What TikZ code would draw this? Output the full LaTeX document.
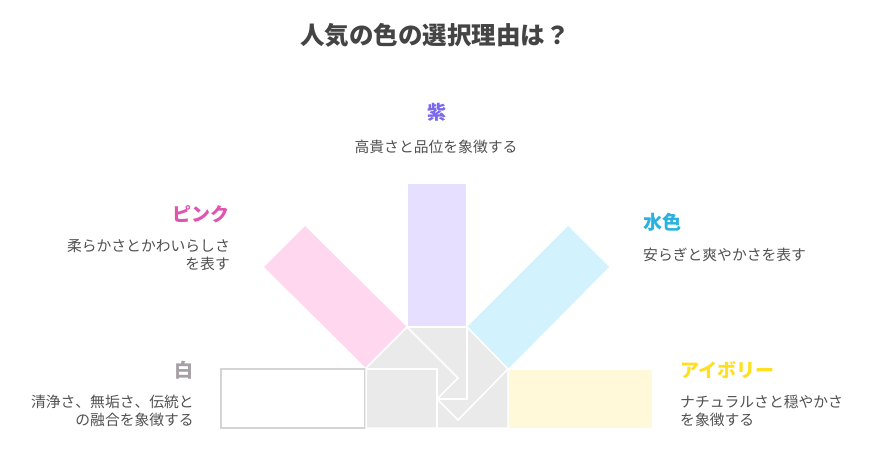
\documentclass[tikz,border=0pt]{standalone}
\usepackage{fontspec}
\setmainfont{Noto Sans CJK JP}
\definecolor{txtgray}{HTML}{505050}
\definecolor{ttlgray}{HTML}{444444}
\definecolor{hubgray}{HTML}{EAEAEA}
\definecolor{murasaki}{HTML}{7B68EE}
\definecolor{murasakiL}{HTML}{E6DFFF}
\definecolor{pink}{HTML}{E055B0}
\definecolor{pinkL}{HTML}{FFD7EF}
\definecolor{mizu}{HTML}{29B2DE}
\definecolor{mizuL}{HTML}{D2F3FD}
\definecolor{ivory}{HTML}{FFE01E}
\definecolor{ivoryL}{HTML}{FFF9DA}
\definecolor{shiro}{HTML}{A6A0A6}
\definecolor{shiroB}{HTML}{D4D4D4}
\tikzset{
  head/.style={inner sep=0pt, font=\bfseries\fontsize{19}{22}\selectfont},
  desc/.style={inner sep=0pt, font=\fontsize{14.8}{18}\selectfont, text=txtgray},
  cut/.style={draw=white, line width=1.5pt}
}
\begin{document}
\begin{tikzpicture}[x=1pt,y=-1pt]
  \useasboundingbox (0,0) rectangle (871,455);
  \node[font=\bfseries\fontsize{24.5}{28}\selectfont, text=ttlgray] (title) at (435,35) {人気の色の選択理由は？};

  % bars
  \fill[murasakiL] (408,184) rectangle (466,326);
  \fill[pinkL] (407,327) -- (366,368) -- (264,267) -- (305,226) -- cycle;
  \fill[mizuL] (467,327) -- (508,369) -- (609,267) -- (568,226) -- cycle;
  \fill[ivoryL] (509,370) rectangle (652,428);
  \draw[shiroB, line width=1.5pt, fill=white] (221,369) rectangle (365,428);

  % hub
  \filldraw[fill=hubgray, cut] (366,368) -- (407,327) -- (467,327) -- (508,369) -- (508,428) -- (366,428) -- cycle;
  \begin{scope}[cut]
    \draw (366,369) -- (437,369) -- (437,428);
    \draw (407,327) -- (458,378) -- (437,399);
    \draw (467,327) -- (467,399) -- (437,399);
    \draw (437,399) -- (458,420) -- (508,369);
  \end{scope}

  % labels
  \node[head, text=murasaki] (murasakiH) at (437,112) {紫};
  \node[desc] (murasakiT) at (436,147) {高貴さと品位を象徴する};
  \node[head, text=pink, anchor=east] (pinkH) at (230,214) {ピンク};
  \node[desc, anchor=east, align=right] (pinkT) at (230,255) {柔らかさとかわいらしさ\\を表す};
  \node[head, text=mizu, anchor=west] (mizuH) at (643,222) {水色};
  \node[desc, anchor=west] (mizuT) at (643,255) {安らぎと爽やかさを表す};
  \node[head, text=shiro, anchor=east] (shiroH) at (194,370) {白};
  \node[desc, anchor=east, align=right] (shiroT) at (194,411) {清浄さ、無垢さ、伝統と\\の融合を象徴する};
  \node[head, text=ivory, anchor=west] (ivoryH) at (680,370) {アイボリー};
  \node[desc, anchor=west, align=left] (ivoryT) at (680,411) {ナチュラルさと穏やかさ\\を象徴する};
\end{tikzpicture}
\end{document}
